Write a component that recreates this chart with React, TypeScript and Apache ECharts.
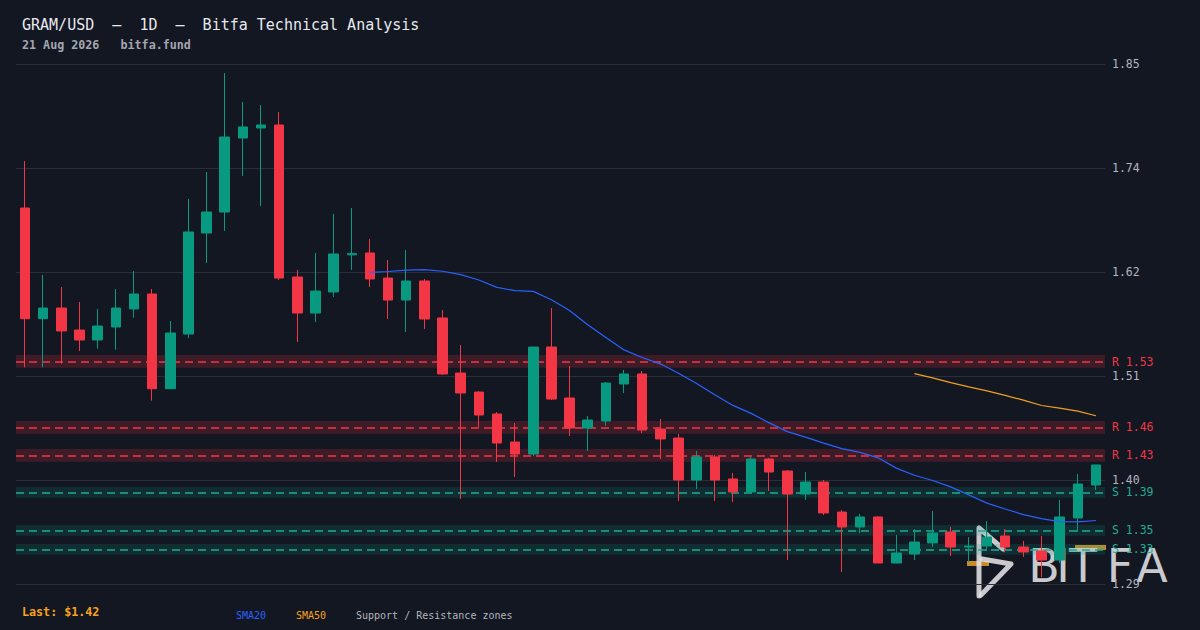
import React, { useEffect, useRef } from "react";
import * as echarts from "echarts";

// ---- data ----
const opens = [
  1.6929, 1.5737, 1.5852, 1.5615, 1.5508, 1.5648, 1.5842, 1.6003, 1.4983, 1.5572,
  1.666, 1.6886, 1.7683, 1.7791, 1.7823, 1.6186, 1.5798, 1.6025, 1.6425, 1.6445,
  1.6175, 1.5938, 1.6143, 1.5745, 1.5152, 1.4947, 1.4711, 1.4409, 1.428, 1.5432,
  1.4883, 1.456, 1.4635, 1.5034, 1.5142, 1.4549, 1.4452, 1.4, 1.4248, 1.4011,
  1.3871, 1.4226, 1.4097, 1.3849, 1.3978, 1.3655, 1.3494, 1.3602, 1.3106, 1.3203,
  1.3322, 1.344, 1.3278, 1.3289, 1.3397, 1.3278, 1.3235, 1.3138, 1.3591, 1.3946,
];
const highs = [
  1.7435, 1.6208, 1.6078, 1.5917, 1.5842, 1.6057, 1.6251, 1.6057, 1.5712, 1.7026,
  1.7317, 1.8383, 1.8071, 1.8038, 1.7963, 1.6262, 1.6445, 1.6865, 1.6929, 1.6595,
  1.6369, 1.6477, 1.6165, 1.5831, 1.5454, 1.4958, 1.4732, 1.4614, 1.5432, 1.5852,
  1.5228, 1.4689, 1.5055, 1.5185, 1.5174, 1.4657, 1.4495, 1.4312, 1.4269, 1.4075,
  1.4248, 1.4237, 1.4108, 1.4086, 1.4, 1.3677, 1.3634, 1.3612, 1.3408, 1.3472,
  1.3666, 1.3494, 1.3386, 1.3558, 1.3472, 1.3343, 1.3397, 1.3785, 1.4065, 1.4162,
];
const lows = [
  1.5214, 1.5214, 1.5253, 1.5389, 1.5414, 1.5403, 1.5748, 1.4854, 1.4983, 1.5529,
  1.6337, 1.6682, 1.7274, 1.6951, 1.6154, 1.5486, 1.5702, 1.5971, 1.6262, 1.6078,
  1.5734, 1.5594, 1.5626, 1.5131, 1.3795, 1.4571, 1.4194, 1.4032, 1.4258, 1.4861,
  1.4474, 1.4312, 1.4582, 1.4937, 1.4506, 1.4226, 1.3774, 1.3903, 1.3774, 1.3763,
  1.386, 1.3882, 1.3138, 1.3785, 1.3623, 1.3009, 1.3429, 1.3106, 1.3106, 1.3138,
  1.3278, 1.3182, 1.3117, 1.3235, 1.322, 1.3171, 1.2955, 1.3106, 1.344, 1.3892,
];
const closes = [
  1.5737, 1.5852, 1.5605, 1.5508, 1.5658, 1.5852, 1.6003, 1.4983, 1.5583, 1.6671,
  1.6886, 1.7694, 1.7802, 1.7823, 1.6175, 1.5798, 1.6035, 1.6434, 1.644, 1.6165,
  1.5938, 1.6143, 1.5734, 1.5142, 1.4937, 1.47, 1.4398, 1.428, 1.5432, 1.4872,
  1.456, 1.4646, 1.5044, 1.5142, 1.4538, 1.4442, 1.4, 1.4248, 1.4, 1.3871,
  1.4226, 1.4086, 1.3849, 1.3978, 1.3645, 1.3494, 1.3602, 1.3106, 1.3214, 1.3332,
  1.3429, 1.3278, 1.3289, 1.3386, 1.3278, 1.3225, 1.3138, 1.3602, 1.3957, 1.4162,
];

// resistance / support zones: level, band low, band high
const resistanceLevels = [1.5275, 1.4568, 1.4266];
const resistanceLow = [1.5209, 1.4499, 1.4197];
const resistanceHigh = [1.5346, 1.4635, 1.4334];
const resistanceLabels = ["R 1.53", "R 1.46", "R 1.43"];
const supportLevels = [1.3867, 1.3458, 1.3253];
const supportLow = [1.381, 1.34, 1.3196];
const supportHigh = [1.3925, 1.3516, 1.3311];
const supportLabels = ["S 1.39", "S 1.35", "S 1.33"];

const priceMin = 1.288;
const priceMax = 1.848;
const tickLabels = ["1.29", "1.40", "1.51", "1.62", "1.74", "1.85"];

const startDate = Date.UTC(2026, 5, 23);
const categories = closes.map((_, i) => {
  const d = new Date(startDate + i * 86400000);
  return d.toISOString().slice(0, 10);
});

function movingAverage(values: number[], n: number): (number | string)[] {
  return values.map((_, i) => {
    if (i < n - 1) return "-";
    let s = 0;
    for (let k = i - n + 1; k <= i; k++) s += values[k];
    return +(s / n).toFixed(5);
  });
}

const MONO = '"DejaVu Sans Mono", "Liberation Mono", monospace';
const RED = "#f23645";
const GREEN = "#089981";
const TEAL = "#22ab94";
const ORANGE = "#f7a21b";
const BLUE = "#2962ff";

export default function App() {
  const ref = useRef<HTMLDivElement>(null);

  useEffect(() => {
    if (!ref.current) return;
    const chart = echarts.init(ref.current, null, { renderer: "svg" });

    const candleData = categories.map((_, i) => [opens[i], closes[i], lows[i], highs[i]]);

    const areaData: any[] = [];
    const lineData: any[] = [];
    resistanceLevels.forEach((lv, i) => {
      areaData.push([
        { yAxis: resistanceLow[i], itemStyle: { color: "rgba(242,54,69,0.19)" } },
        { yAxis: resistanceHigh[i] },
      ]);
      lineData.push({
        yAxis: lv,
        lineStyle: { color: RED, type: [8, 5], width: 1.5, opacity: 1 },
        label: { formatter: resistanceLabels[i], color: RED },
      });
    });
    supportLevels.forEach((lv, i) => {
      areaData.push([
        { yAxis: supportLow[i], itemStyle: { color: "rgba(8,153,129,0.17)" } },
        { yAxis: supportHigh[i] },
      ]);
      lineData.push({
        yAxis: lv,
        lineStyle: { color: TEAL, type: [8, 5], width: 1.5, opacity: 1 },
        label: { formatter: supportLabels[i], color: TEAL },
      });
    });

    const logoColor = "rgba(228,228,230,0.88)";
    const letters = [
      { t: "B", x: 1044 },
      { t: "I", x: 1063 },
      { t: "T", x: 1083 },
      { t: "F", x: 1120 },
      { t: "A", x: 1152 },
    ];

    const option: any = {
      animation: false,
      backgroundColor: "#131722",
      grid: { left: 16, right: 95, top: 64, bottom: 46 },
      xAxis: {
        type: "category",
        data: categories,
        boundaryGap: true,
        show: false,
      },
      yAxis: [
        { type: "value", min: priceMin, max: priceMax, show: false, scale: true },
        {
          type: "value",
          min: 0,
          max: 5,
          interval: 1,
          position: "right",
          axisLine: { show: false },
          axisTick: { show: false },
          splitLine: { show: true, lineStyle: { color: "#2a2e39", width: 1 } },
          axisLabel: {
            color: "#b2b5be",
            fontFamily: MONO,
            fontSize: 11.5,
            margin: 7,
            formatter: (v: number) => tickLabels[Math.round(v)],
          },
        },
      ],
      series: [
        {
          type: "line",
          name: "zones",
          data: categories.map(() => "-"),
          yAxisIndex: 0,
          z: 1,
          silent: true,
          showSymbol: false,
          markArea: { silent: true, z: 0, data: areaData },
          markLine: {
            silent: true,
            z: 1,
            precision: 5,
            symbol: ["none", "none"],
            label: {
              position: "end",
              distance: 7,
              fontFamily: MONO,
              fontSize: 11.5,
            },
            data: lineData,
          },
        },
        {
          type: "candlestick",
          name: "GRAM/USD",
          data: candleData,
          yAxisIndex: 0,
          z: 2,
          barWidth: 10,
          itemStyle: {
            color: GREEN,
            color0: RED,
            borderColor: GREEN,
            borderColor0: RED,
            borderWidth: 1,
          },
        },
        {
          type: "line",
          name: "SMA20",
          data: movingAverage(closes, 20),
          yAxisIndex: 0,
          z: 3,
          showSymbol: false,
          symbol: "none",
          lineStyle: { color: BLUE, width: 1.2 },
        },
        {
          type: "line",
          name: "SMA50",
          data: movingAverage(closes, 50),
          yAxisIndex: 0,
          z: 3,
          showSymbol: false,
          symbol: "none",
          lineStyle: { color: "#f0a020", width: 1.2 },
        },
      ],
      graphic: [
        {
          type: "text",
          x: 22,
          y: 24.5,
          style: {
            text: "GRAM/USD  \u2013  1D  \u2013  Bitfa Technical Analysis",
            fill: "#e6e8ee",
            font: `normal 15px ${MONO}`,
            textVerticalAlign: "middle",
          },
        },
        {
          type: "text",
          x: 22,
          y: 45,
          style: {
            text: "21 Aug 2026   bitfa.fund",
            fill: "#a3a6af",
            font: `bold 11.7px ${MONO}`,
            textVerticalAlign: "middle",
          },
        },
        {
          type: "text",
          x: 22,
          y: 612,
          style: {
            text: "Last: $1.42",
            fill: ORANGE,
            font: `bold 11.7px ${MONO}`,
            textVerticalAlign: "middle",
          },
        },
        {
          type: "text",
          x: 236,
          y: 615,
          style: { text: "SMA20", fill: BLUE, font: `normal 10px ${MONO}`, textVerticalAlign: "middle" },
        },
        {
          type: "text",
          x: 296,
          y: 615,
          style: { text: "SMA50", fill: ORANGE, font: `normal 10px ${MONO}`, textVerticalAlign: "middle" },
        },
        {
          type: "text",
          x: 356,
          y: 615,
          style: {
            text: "Support / Resistance zones",
            fill: "#b2b5be",
            font: `normal 10px ${MONO}`,
            textVerticalAlign: "middle",
          },
        },
        // watermark logo
        {
          type: "group",
          z: 100,
          children: [
            { type: "rect", shape: { x: 967, y: 561, width: 22, height: 5 }, style: { fill: "#c98a2b" } },
            { type: "rect", shape: { x: 1075, y: 545, width: 31, height: 5 }, style: { fill: "#c98a2b" } },
            {
              type: "polyline",
              shape: { points: [[1003, 549], [979, 528], [979, 596]] },
              style: { stroke: logoColor, lineWidth: 5, fill: null, lineCap: "round", lineJoin: "round" },
            },
            {
              type: "polyline",
              shape: { points: [[982, 559], [1011, 564], [981, 595]] },
              style: { stroke: logoColor, lineWidth: 5, fill: null, lineCap: "round", lineJoin: "round" },
            },
            ...letters.map((l) => ({
              type: "text",
              x: l.x,
              y: 566,
              style: {
                text: l.t,
                fill: logoColor,
                font: 'normal 46px "DejaVu Sans", sans-serif',
                textAlign: "center",
                textVerticalAlign: "middle",
              },
            })),
          ],
        },
      ],
    };

    chart.setOption(option);
    return () => chart.dispose();
  }, []);

  return (
    <div
      ref={ref}
      style={{ position: "fixed", left: 0, top: 0, width: 1200, height: 630 }}
    />
  );
}
